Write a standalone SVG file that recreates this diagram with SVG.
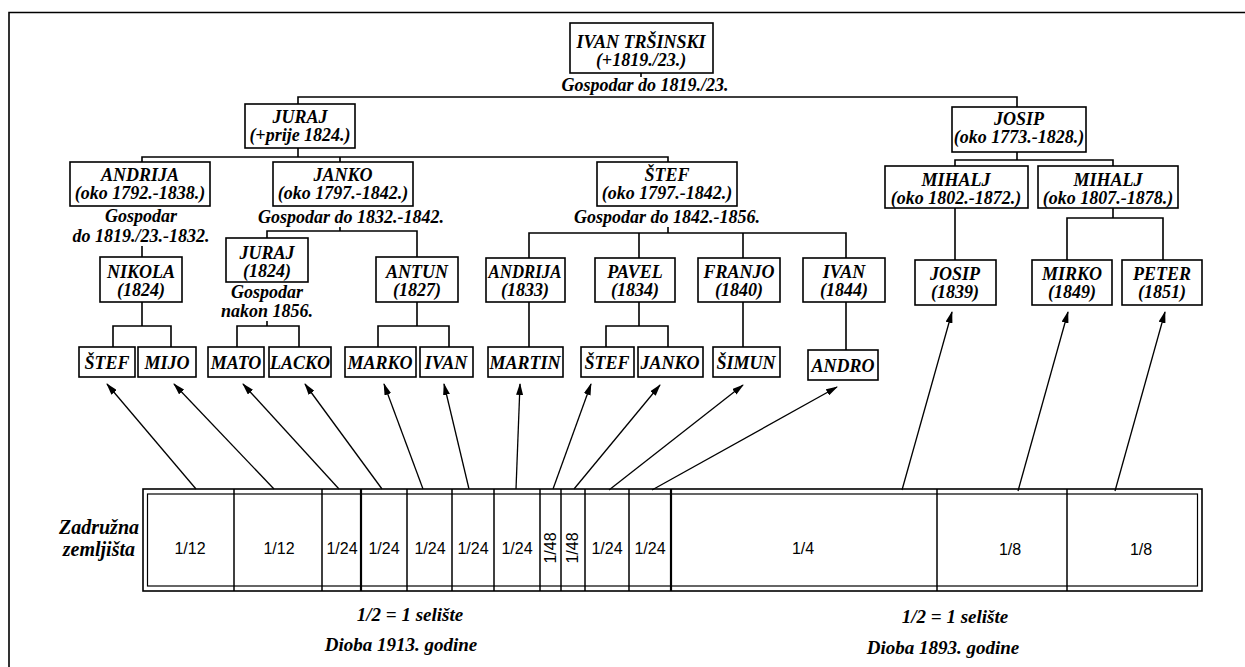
<svg xmlns="http://www.w3.org/2000/svg" width="1245" height="667" viewBox="0 0 1245 667">
<defs>
<style>
.b{fill:#fff;stroke:#000;stroke-width:1.6}
.t{font-family:"Liberation Serif","Times New Roman",serif;font-weight:bold;font-style:italic;font-size:18px;text-anchor:middle;fill:#000}
.s{font-family:"Liberation Sans",Arial,sans-serif;font-size:16px;text-anchor:middle;fill:#000}
.c{fill:none;stroke:#000;stroke-width:1.6}
.a{fill:none;stroke:#000;stroke-width:1.3}
.f{fill:none;stroke:#000;stroke-width:1.6}
.big{font-size:20px}
.cap{font-size:19px}
</style>
<marker id="ah" markerWidth="12" markerHeight="7" refX="11" refY="3.5" orient="auto" markerUnits="userSpaceOnUse">
<path d="M0,0 L12,3.5 L0,7 z" fill="#000"/>
</marker>
</defs>
<rect width="1245" height="667" fill="#fff"/>
<path class="f" d="M9,667 V12.5 H1245"/>

<g id="connectors">
<path class="c" d="M641,73 V77"/>
<path class="c" d="M298,104 V97 H1017 V107"/>
<path class="c" d="M298,148 V157 M142,162 V157 H668 V162 M340,157 V162"/>
<path class="c" d="M1017,152 V160 M955,166 V160 H1113 V166"/>
<path class="c" d="M142,246 V257"/>
<path class="c" d="M340,227 V231 M267,238 V231 H417 V257"/>
<path class="c" d="M668,227 V233 M529,258 V233 H846 V258 M639,233 V258 M743,233 V258"/>
<path class="c" d="M955,208 V260"/>
<path class="c" d="M1113,208 V218 M1067,260 V218 H1163 V260"/>
<path class="c" d="M142,302 V326 M113,347 V326 H171 V347"/>
<path class="c" d="M267,321 V326 M237,347 V326 H299 V347"/>
<path class="c" d="M417,302 V326 M378,347 V326 H449 V347"/>
<path class="c" d="M529,302 V347"/>
<path class="c" d="M639,302 V326 M606,347 V326 H668 V347"/>
<path class="c" d="M743,302 V347"/>
<path class="c" d="M846,302 V350"/>
<g marker-end="url(#ah)">
<line class="a" x1="196" y1="489" x2="107" y2="384"/>
<line class="a" x1="274" y1="489" x2="174" y2="384"/>
<line class="a" x1="339" y1="489" x2="243" y2="384"/>
<line class="a" x1="382" y1="489" x2="305" y2="384"/>
<line class="a" x1="423" y1="489" x2="384" y2="384"/>
<line class="a" x1="469" y1="489" x2="444" y2="384"/>
<line class="a" x1="516" y1="489" x2="520" y2="384"/>
<line class="a" x1="553" y1="489" x2="591" y2="384"/>
<line class="a" x1="574" y1="489" x2="660" y2="385"/>
<line class="a" x1="609" y1="490" x2="743" y2="385"/>
<line class="a" x1="652" y1="490" x2="837" y2="387"/>
<line class="a" x1="902" y1="490" x2="952" y2="312"/>
<line class="a" x1="1018" y1="491" x2="1068" y2="312"/>
<line class="a" x1="1115" y1="491" x2="1165" y2="312"/>
</g>
</g>

<g id="ivan_trsinski">
<rect class="b" x="570" y="23" width="143" height="50"/>
<text class="t" x="641" y="48">IVAN TRŠINSKI</text>
<text class="t" x="641" y="66">(+1819./23.)</text>
<text class="t" x="645" y="91">Gospodar do 1819./23.</text>
</g>

<g id="juraj">
<rect class="b" x="245" y="104" width="110" height="44"/>
<text class="t" x="300" y="123">JURAJ</text>
<text class="t" x="300" y="141">(+prije 1824.)</text>
</g>
<g id="josip">
<rect class="b" x="952" y="107" width="134" height="45"/>
<text class="t" x="1019" y="125">JOSIP</text>
<text class="t" x="1019" y="143">(oko 1773.-1828.)</text>
</g>

<g id="andrija">
<rect class="b" x="70" y="162" width="140" height="44"/>
<text class="t" x="140" y="181">ANDRIJA</text>
<text class="t" x="140" y="199">(oko 1792.-1838.)</text>
<text class="t" x="141" y="222">Gospodar</text>
<text class="t" x="141" y="242">do 1819./23.-1832.</text>
</g>
<g id="janko">
<rect class="b" x="273" y="162" width="140" height="44"/>
<text class="t" x="343" y="181">JANKO</text>
<text class="t" x="343" y="199">(oko 1797.-1842.)</text>
<text class="t" x="351" y="223">Gospodar do 1832.-1842.</text>
</g>
<g id="stef">
<rect class="b" x="597" y="162" width="140" height="44"/>
<text class="t" x="667" y="181">ŠTEF</text>
<text class="t" x="667" y="199">(oko 1797.-1842.)</text>
<text class="t" x="667" y="223">Gospodar do 1842.-1856.</text>
</g>
<g id="mihalj1">
<rect class="b" x="885" y="166" width="143" height="42"/>
<text class="t" x="956" y="186">MIHALJ</text>
<text class="t" x="956" y="204">(oko 1802.-1872.)</text>
</g>
<g id="mihalj2">
<rect class="b" x="1038" y="166" width="140" height="42"/>
<text class="t" x="1108" y="186">MIHALJ</text>
<text class="t" x="1108" y="204">(oko 1807.-1878.)</text>
</g>

<g id="nikola">
<rect class="b" x="100" y="257" width="82" height="45"/>
<text class="t" x="141" y="278">NIKOLA</text>
<text class="t" x="141" y="296">(1824)</text>
</g>
<g id="juraj1824">
<rect class="b" x="226" y="238" width="82" height="44"/>
<text class="t" x="267" y="259">JURAJ</text>
<text class="t" x="267" y="277">(1824)</text>
<text class="t" x="267" y="298">Gospodar</text>
<text class="t" x="267" y="317">nakon 1856.</text>
</g>
<g id="antun">
<rect class="b" x="376" y="257" width="82" height="45"/>
<text class="t" x="417" y="278">ANTUN</text>
<text class="t" x="417" y="296">(1827)</text>
</g>
<g id="andrija1833">
<rect class="b" x="486" y="258" width="79" height="44"/>
<text class="t" x="525" y="278" textLength="73" lengthAdjust="spacingAndGlyphs">ANDRIJA</text>
<text class="t" x="525" y="296">(1833)</text>
</g>
<g id="pavel">
<rect class="b" x="595" y="258" width="80" height="44"/>
<text class="t" x="635" y="278">PAVEL</text>
<text class="t" x="635" y="296">(1834)</text>
</g>
<g id="franjo">
<rect class="b" x="698" y="258" width="82" height="44"/>
<text class="t" x="739" y="278">FRANJO</text>
<text class="t" x="739" y="296">(1840)</text>
</g>
<g id="ivan1844">
<rect class="b" x="803" y="258" width="82" height="44"/>
<text class="t" x="844" y="278">IVAN</text>
<text class="t" x="844" y="296">(1844)</text>
</g>
<g id="josip1839">
<rect class="b" x="915" y="260" width="81" height="45"/>
<text class="t" x="955" y="280">JOSIP</text>
<text class="t" x="955" y="298">(1839)</text>
</g>
<g id="mirko">
<rect class="b" x="1032" y="260" width="80" height="45"/>
<text class="t" x="1072" y="280">MIRKO</text>
<text class="t" x="1072" y="298">(1849)</text>
</g>
<g id="peter">
<rect class="b" x="1122" y="260" width="80" height="45"/>
<text class="t" x="1162" y="280">PETER</text>
<text class="t" x="1162" y="298">(1851)</text>
</g>

<g id="stef_n"><rect class="b" x="79" y="347" width="56" height="30"/><text class="t" x="107" y="369">ŠTEF</text></g>
<g id="mijo"><rect class="b" x="138" y="347" width="58" height="30"/><text class="t" x="167" y="369">MIJO</text></g>
<g id="mato"><rect class="b" x="208" y="347" width="56" height="30"/><text class="t" x="236" y="369">MATO</text></g>
<g id="lacko"><rect class="b" x="269" y="347" width="62" height="30"/><text class="t" x="300" y="369">LACKO</text></g>
<g id="marko"><rect class="b" x="345" y="347" width="71" height="30"/><text class="t" x="380" y="369">MARKO</text></g>
<g id="ivan_a"><rect class="b" x="420" y="347" width="53" height="30"/><text class="t" x="446" y="369">IVAN</text></g>
<g id="martin"><rect class="b" x="488" y="347" width="75" height="30"/><text class="t" x="525" y="369">MARTIN</text></g>
<g id="stef_p"><rect class="b" x="581" y="347" width="53" height="30"/><text class="t" x="607" y="369">ŠTEF</text></g>
<g id="janko_p"><rect class="b" x="638" y="347" width="65" height="30"/><text class="t" x="670" y="369">JANKO</text></g>
<g id="simun"><rect class="b" x="713" y="347" width="67" height="30"/><text class="t" x="746" y="369">ŠIMUN</text></g>
<g id="andro"><rect class="b" x="808" y="350" width="70" height="30"/><text class="t" x="843" y="372">ANDRO</text></g>

<g id="zemljista">
<text class="t big" x="139" y="534" style="text-anchor:end">Zadružna</text>
<text class="t big" x="135" y="556" style="text-anchor:end">zemljišta</text>
<rect class="f" x="143" y="489" width="1059" height="102"/>
<rect fill="none" stroke="#000" stroke-width="1.2" x="147.5" y="494" width="1050" height="92"/>
<g stroke="#000" stroke-width="1.5">
<line x1="234" y1="489" x2="234" y2="591"/>
<line x1="322" y1="489" x2="322" y2="591"/>
<line x1="361" y1="489" x2="361" y2="591" stroke-width="2.2"/>
<line x1="407" y1="489" x2="407" y2="591"/>
<line x1="452" y1="489" x2="452" y2="591"/>
<line x1="494" y1="489" x2="494" y2="591"/>
<line x1="540" y1="489" x2="540" y2="591"/>
<line x1="561" y1="489" x2="561" y2="591"/>
<line x1="585" y1="489" x2="585" y2="591"/>
<line x1="629" y1="489" x2="629" y2="591"/>
<line x1="671" y1="489" x2="671" y2="591" stroke-width="2.2"/>
<line x1="937" y1="489" x2="937" y2="591"/>
<line x1="1067" y1="489" x2="1067" y2="591"/>
</g>
<text class="s" x="190" y="554">1/12</text>
<text class="s" x="279" y="554">1/12</text>
<text class="s" x="342" y="554">1/24</text>
<text class="s" x="384" y="554">1/24</text>
<text class="s" x="430" y="554">1/24</text>
<text class="s" x="473" y="554">1/24</text>
<text class="s" x="517" y="554">1/24</text>
<text class="s" transform="translate(556,548) rotate(-90)">1/48</text>
<text class="s" transform="translate(578,548) rotate(-90)">1/48</text>
<text class="s" x="607" y="554">1/24</text>
<text class="s" x="650" y="554">1/24</text>
<text class="s" x="803" y="554">1/4</text>
<text class="s" x="1010" y="555">1/8</text>
<text class="s" x="1141" y="555">1/8</text>
</g>

<g id="captions">
<text class="t cap" x="410" y="621">1/2 = 1 selište</text>
<text class="t cap" x="401" y="651">Dioba 1913. godine</text>
<text class="t cap" x="955" y="623">1/2 = 1 selište</text>
<text class="t cap" x="943" y="654">Dioba 1893. godine</text>
</g>
</svg>
